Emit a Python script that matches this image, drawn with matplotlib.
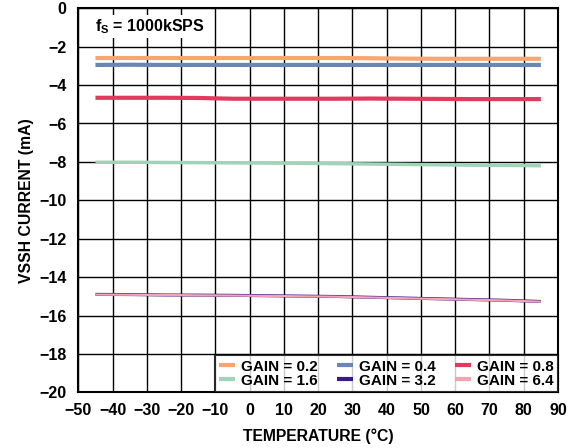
import matplotlib
matplotlib.use("Agg")
import matplotlib.pyplot as plt

plt.rcParams['font.family'] = 'Liberation Sans'
plt.rcParams['font.weight'] = 'bold'
plt.rcParams['mathtext.fontset'] = 'custom'
plt.rcParams['mathtext.bf'] = 'Liberation Sans:bold'
plt.rcParams['mathtext.rm'] = 'Liberation Sans:bold'

temperature = [-45, -35, -25, -15, -5, 5, 15, 25, 35, 45, 55, 65, 75, 85]
gain_02 = [-2.59, -2.59, -2.59, -2.59, -2.59, -2.59, -2.59, -2.59, -2.60, -2.62, -2.63, -2.63, -2.63, -2.63]
gain_04 = [-2.95, -2.94, -2.95, -2.95, -2.95, -2.95, -2.95, -2.95, -2.95, -2.95, -2.95, -2.95, -2.95, -2.95]
gain_08 = [-4.66, -4.66, -4.66, -4.67, -4.71, -4.71, -4.71, -4.71, -4.70, -4.71, -4.72, -4.73, -4.73, -4.73]
gain_16 = [-8.02, -8.02, -8.03, -8.04, -8.05, -8.06, -8.07, -8.09, -8.11, -8.13, -8.15, -8.17, -8.18, -8.20]
gain_32 = [-14.90, -14.91, -14.93, -14.94, -14.95, -14.97, -14.99, -15.01, -15.05, -15.09, -15.13, -15.17, -15.21, -15.27]
gain_64 = [-14.91, -14.92, -14.93, -14.95, -14.96, -14.98, -15.00, -15.02, -15.06, -15.10, -15.14, -15.18, -15.22, -15.28]

series = [
    ("GAIN = 0.2", gain_02, "#F9A56F", 3.0),
    ("GAIN = 0.4", gain_04, "#6A86B5", 3.0),
    ("GAIN = 0.8", gain_08, "#E03A5C", 3.0),
    ("GAIN = 1.6", gain_16, "#9FD4B9", 2.5),
    ("GAIN = 3.2", gain_32, "#3A1A8A", 2.2),
    ("GAIN = 6.4", gain_64, "#F4A3B4", 1.6),
]

fig = plt.figure(figsize=(5.76, 4.48), dpi=100)
ax = fig.add_axes([78.3/576, 1-392.3/448, (558-78.3)/576, (392.3-8.3)/448])

handles = []
for label, vals, color, lw in series:
    h, = ax.plot(temperature, vals, color=color, lw=lw, label=label, solid_capstyle='butt')
    handles.append(h)

fs_tick = 11.5
fs_lab = 11.3
fs_leg = 11
xt = list(range(-50, 91, 10))
yt = list(range(-20, 1, 2))
ax.set_xlim(-50, 90)
ax.set_ylim(-20, 0)
ax.set_xticks(xt)
ax.set_yticks(yt)
ax.set_xticklabels([str(v).replace('-', '\u2212') for v in xt], fontsize=fs_tick, fontweight='bold')
ax.set_yticklabels([str(v).replace('-', '\u2212') for v in yt], fontsize=fs_tick, fontweight='bold')
ax.grid(True, color='black', lw=1.0)
ax.tick_params(axis='x', length=0, pad=8)
ax.tick_params(axis='y', length=0, pad=8.5)
for sp in ax.spines.values():
    sp.set_linewidth(1.5)
    sp.set_color('black')

ax.set_xlabel("TEMPERATURE (°C)", fontsize=fs_lab, fontweight='bold', labelpad=7)
ax.set_ylabel("VSSH CURRENT (mA)", fontsize=fs_lab, fontweight='bold', labelpad=4)

ax.text(-45, -0.97, r"f$_\mathbf{S}$ = 1000kSPS", fontsize=11.5, fontweight='bold', va='center', ha='left',
        bbox=dict(facecolor='white', edgecolor='none', pad=1.5))

# row-wise ordering for a 3-column legend
order = [0, 3, 1, 4, 2, 5]
leg = ax.legend([handles[i] for i in order], [series[i][0] for i in order],
                loc='lower right', ncol=3, frameon=True, fancybox=False, borderaxespad=0,
                handlelength=1.05, handletextpad=0.35, columnspacing=1.3,
                labelspacing=0.0, borderpad=0.3, prop={'weight': 'bold', 'size': fs_leg})
leg.get_frame().set_edgecolor('black')
leg.get_frame().set_linewidth(1.5)
for line in leg.get_lines():
    line.set_linewidth(3)

fig.savefig("out.png", dpi=100)
